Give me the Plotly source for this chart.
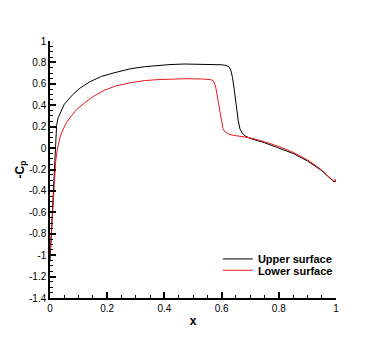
import plotly.graph_objects as go

# upper surface (black)
upper_x = [0.0, 0.004, 0.008, 0.012, 0.016, 0.02, 0.023, 0.028, 0.035, 0.05, 0.08, 0.105, 0.14,
           0.18, 0.22, 0.28, 0.33, 0.37, 0.42, 0.47, 0.52, 0.57, 0.6, 0.615, 0.625, 0.632,
           0.638, 0.644, 0.648, 0.653, 0.658, 0.664, 0.672, 0.682, 0.7, 0.75, 0.8, 0.85,
           0.9, 0.93, 0.95, 0.97, 0.985, 0.993, 1.0, 0.996]
upper_cp = [-1.06, -0.85, -0.6, -0.35, -0.1, 0.1, 0.21, 0.28, 0.32, 0.41, 0.5, 0.56, 0.62,
            0.67, 0.7, 0.74, 0.76, 0.77, 0.78, 0.785, 0.785, 0.782, 0.778, 0.772, 0.76, 0.73,
            0.66, 0.55, 0.45, 0.35, 0.26, 0.18, 0.14, 0.115, 0.09, 0.05, 0.0, -0.05,
            -0.12, -0.17, -0.21, -0.26, -0.3, -0.315, -0.31, -0.295]

# lower surface (red)
lower_x = [0.0, 0.004, 0.008, 0.012, 0.016, 0.02, 0.025, 0.03, 0.035, 0.045, 0.058, 0.075,
           0.093, 0.12, 0.15, 0.19, 0.23, 0.28, 0.33, 0.38, 0.43, 0.48, 0.53, 0.56, 0.57,
           0.575, 0.58, 0.585, 0.59, 0.595, 0.6, 0.605, 0.613, 0.625, 0.64, 0.66, 0.68, 0.7,
           0.75, 0.8, 0.85, 0.9, 0.93, 0.95, 0.97, 0.985, 0.993, 1.0, 0.996]
lower_cp = [-1.02, -0.85, -0.65, -0.45, -0.25, -0.12, -0.02, 0.05, 0.1, 0.17, 0.24, 0.3,
            0.36, 0.42, 0.48, 0.54, 0.58, 0.61, 0.63, 0.64, 0.645, 0.648, 0.645, 0.64, 0.63,
            0.61, 0.56, 0.48, 0.39, 0.3, 0.23, 0.18, 0.15, 0.13, 0.12, 0.11, 0.105, 0.095,
            0.06, 0.015, -0.04, -0.11, -0.165, -0.205, -0.255, -0.295, -0.31, -0.305, -0.29]

x_ticks = [0, 0.2, 0.4, 0.6, 0.8, 1]
x_labels = ['0', '0.2', '0.4', '0.6', '0.8', '1']
y_ticks = [1, 0.8, 0.6, 0.4, 0.2, 0, -0.2, -0.4, -0.6, -0.8, -1, -1.2, -1.4]
y_labels = ['1', '0.8', '0.6', '0.4', '0.2', '0', '-0.2', '-0.4', '-0.6', '-0.8', '-1', '-1.2', '-1.4']

FONT = 'Liberation Sans, Arial'

fig = go.Figure()
fig.add_trace(go.Scatter(x=upper_x, y=upper_cp, mode='lines', name='<b>Upper surface</b>',
                         line=dict(color='black', width=1), legend='legend', showlegend=True))
fig.add_trace(go.Scatter(x=lower_x, y=lower_cp, mode='lines', name='<b>Lower surface</b>',
                         line=dict(color='#e8191c', width=1), legend='legend2', showlegend=True))

axis_common = dict(
    showline=True, linecolor='black', linewidth=1.5, mirror=False,
    showgrid=False, zeroline=False, automargin=False,
    ticks='inside', ticklen=6, tickwidth=1.5, tickcolor='black',
    tickfont=dict(family=FONT, size=10, color='black'),
)
legend_common = dict(xanchor='left', yanchor='middle', bgcolor='rgba(0,0,0,0)',
                     font=dict(family=FONT, size=11, color='black'))

# page body has an 8px margin, so the margins are shifted by 8
fig.update_layout(
    width=382, height=340,
    margin=dict(l=42, r=54, t=33, b=50),
    paper_bgcolor='white', plot_bgcolor='white',
    showlegend=True,
    xaxis=dict(range=[0, 1], tickvals=x_ticks, ticktext=x_labels,
               minor=dict(dtick=0.05, ticks='inside', ticklen=3, tickcolor='black', tickwidth=1),
               title=dict(text='<b>x</b>', standoff=4,
                          font=dict(family=FONT, size=12, color='black')),
               **axis_common),
    yaxis=dict(range=[-1.4, 1], tickvals=y_ticks, ticktext=y_labels,
               minor=dict(dtick=0.05, ticks='inside', ticklen=3, tickcolor='black', tickwidth=1),
               title=dict(text='<b>-C<sub>p</sub></b>', standoff=2,
                          font=dict(family=FONT, size=12, color='black')),
               **axis_common),
    legend=dict(x=0.587, y=0.152, **legend_common),
    legend2=dict(x=0.587, y=0.108, **legend_common),
)

fig.write_html('out.html')
